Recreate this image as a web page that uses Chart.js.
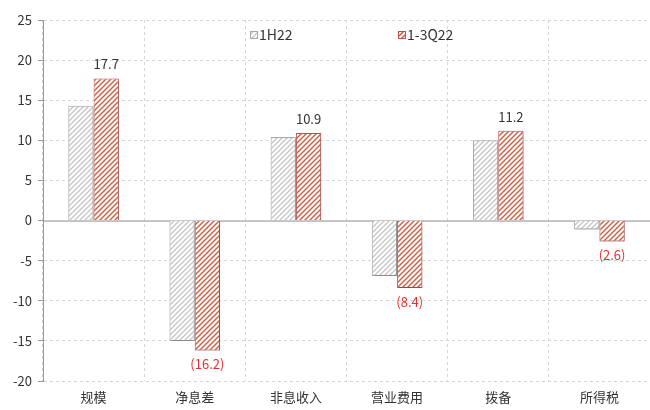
<!DOCTYPE html>
<html>
<head>
<meta charset="utf-8">
<script src="https://cdn.jsdelivr.net/npm/chart.js@4"></script>
<style>
  body { margin: 0; background: #fff; }
  #wrap { width: 650px; height: 410px; }
</style>
</head>
<body>
<div id="wrap"><canvas id="myChart"></canvas></div>
<script>
const categories = ['规模', '净息差', '非息收入', '营业费用', '拨备', '所得税'];
const seriesNames = ['1H22', '1-3Q22'];
const h1Values = [14.3, -15.0, 10.4, -6.9, 10.0, -1.1];
const q3Values = [17.7, -16.2, 10.9, -8.4, 11.2, -2.6];
const yTicks = [-20, -15, -10, -5, 0, 5, 10, 15, 20, 25];

const FONT = '"Noto Sans CJK SC", "Noto Sans", sans-serif';

// hatch pattern, stripes like ////
function hatch(color, bg) {
  const size = 5;
  const c = document.createElement('canvas');
  c.width = size; c.height = size;
  const g = c.getContext('2d');
  g.fillStyle = bg;
  g.fillRect(0, 0, size, size);
  g.strokeStyle = color;
  g.lineWidth = 1.4;
  g.beginPath();
  g.moveTo(-1, size + 1); g.lineTo(size + 1, -1);
  g.moveTo(-1, 1); g.lineTo(1, -1);
  g.moveTo(size - 1, size + 1); g.lineTo(size + 1, size - 1);
  g.stroke();
  return g.createPattern(c, 'repeat');
}

const grayFill = hatch('#c6c6c6', '#ffffff');
const redFill = hatch('#cf5a3c', '#ffffff');

// zero line, bar shadow, data labels and legend inside the plot
const extras = {
  id: 'extras',
  beforeDatasetsDraw(chart) {
    const ctx = chart.ctx;
    const y = chart.scales.y.getPixelForValue(0);
    ctx.save();
    ctx.strokeStyle = '#8c8c8c';
    ctx.lineWidth = 1;
    ctx.beginPath();
    ctx.moveTo(chart.chartArea.left, y + 0.5);
    ctx.lineTo(chart.chartArea.right, y + 0.5);
    ctx.stroke();
    ctx.restore();
  },
  beforeDatasetDraw(chart) {
    const ctx = chart.ctx;
    ctx.save();
    ctx.shadowColor = 'rgba(0,0,0,0.22)';
    ctx.shadowOffsetX = 1.5;
    ctx.shadowOffsetY = 1.5;
    ctx.shadowBlur = 2;
  },
  afterDatasetDraw(chart) {
    chart.ctx.restore();
  },
  afterDatasetsDraw(chart) {
    const ctx = chart.ctx;
    ctx.save();
    ctx.font = '13px ' + FONT;
    ctx.textAlign = 'center';
    ctx.textBaseline = 'middle';
    const meta = chart.getDatasetMeta(1);
    meta.data.forEach((bar, i) => {
      const v = q3Values[i];
      if (v >= 0) {
        ctx.fillStyle = '#333';
        ctx.fillText(v.toFixed(1), bar.x, bar.y - 14);
      } else {
        ctx.fillStyle = '#e8312f';
        ctx.fillText('(' + Math.abs(v).toFixed(1) + ')', bar.x, bar.y + 14);
      }
    });
    // legend
    const lx = [250, 398];
    const fills = [grayFill, redFill];
    const borders = ['#a8a8a8', '#c0504d'];
    ctx.textAlign = 'left';
    ctx.font = '14px ' + FONT;
    seriesNames.forEach((name, i) => {
      ctx.fillStyle = fills[i];
      ctx.fillRect(lx[i], 31, 8, 8);
      ctx.strokeStyle = borders[i];
      ctx.lineWidth = 1;
      ctx.strokeRect(lx[i] + 0.5, 31.5, 7, 7);
      ctx.fillStyle = '#333';
      ctx.fillText(name, lx[i] + 9, 35);
    });
    ctx.restore();
  }
};

const ctx = document.getElementById('myChart');
new Chart(ctx, {
  type: 'bar',
  data: {
    labels: categories,
    datasets: [{
      label: seriesNames[0],
      data: h1Values,
      backgroundColor: grayFill,
      borderColor: '#a8a8a8',
      borderWidth: 1,
      categoryPercentage: 0.5,
      barPercentage: 1
    }, {
      label: seriesNames[1],
      data: q3Values,
      backgroundColor: redFill,
      borderColor: '#c0504d',
      borderWidth: 1,
      categoryPercentage: 0.5,
      barPercentage: 1
    }]
  },
  plugins: [extras],
  options: {
    responsive: true,
    maintainAspectRatio: false,
    animation: false,
    layout: { padding: { top: 20, right: 0, left: 0, bottom: 0 } },
    plugins: {
      legend: { display: false },
      tooltip: { enabled: false }
    },
    scales: {
      x: {
        afterFit: (axis) => { axis.height = 29; },
        grid: {
          offset: true,
          color: '#d6d6d6',
          drawTicks: false
        },
        border: { display: false, dash: [3, 3] },
        ticks: {
          color: '#333',
          font: { family: FONT, size: 13 },
          padding: 8
        }
      },
      y: {
        min: -20,
        max: 25,
        afterBuildTicks: (axis) => { axis.ticks = yTicks.map(v => ({ value: v })); },
        afterFit: (axis) => { axis.width = 43; },
        grid: {
          color: (c) => c.tick && c.tick.value === 0 ? 'rgba(0,0,0,0)' : '#d6d6d6',
          tickLength: 5,
          tickColor: '#999',
          tickBorderDash: []
        },
        border: { display: true, color: '#999', dash: [3, 3] },
        ticks: {
          color: '#333',
          font: { family: FONT, size: 13 },
          padding: 6
        }
      }
    }
  }
});
</script>
</body>
</html>
